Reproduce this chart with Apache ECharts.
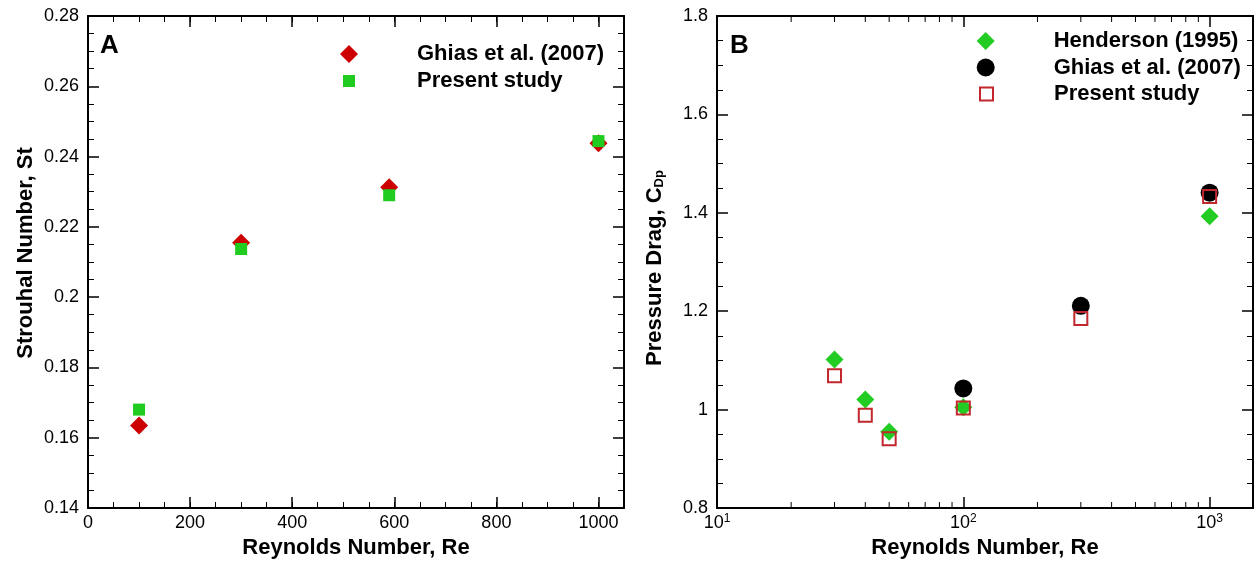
<!DOCTYPE html>
<html>
<head>
<meta charset="utf-8">
<script src="https://cdn.jsdelivr.net/npm/echarts@6/dist/echarts.min.js"></script>
<style>
  html, body { margin: 0; padding: 0; background: #fff; }
  #chart { width: 1257px; height: 561px; }
</style>
</head>
<body>
<div id="chart"></div>
<script>
// Panel A: Strouhal number against Reynolds number
const reA = [100, 300, 590, 1000];
const stGhias = [0.1635, 0.2155, 0.2313, 0.2438];
const stPresent = [0.1680, 0.2137, 0.2290, 0.2444];

// Panel B: pressure drag coefficient against Reynolds number (log axis)
const reHenderson = [30, 40, 50, 100, 1000];
const cdHenderson = [1.102, 1.0205, 0.955, 1.005, 1.393];
const reGhiasB = [100, 300, 1000];
const cdGhiasB = [1.043, 1.211, 1.441];
const rePresentB = [30, 40, 50, 100, 300, 1000];
const cdPresentB = [1.069, 0.9885, 0.941, 1.003, 1.185, 1.433];

// Minor tick positions of the logarithmic Reynolds axis
const reMinorLog = [20, 30, 40, 50, 60, 70, 80, 90, 200, 300, 400, 500, 600, 700, 800, 900];

const FONT = 'Liberation Sans, Arial, sans-serif';
const BLACK = '#000';

const pairs = (xs, ys) => xs.map((x, i) => [x, ys[i]]);

const frameLine = { show: true, onZero: false, lineStyle: { color: BLACK, width: 2 } };
const majorTick = { show: true, inside: true, length: 11, lineStyle: { color: BLACK, width: 1.5 } };
const minorTickStyle = { show: true, inside: true, length: 6, lineStyle: { color: BLACK, width: 1 } };
const tickLabel = { color: BLACK, fontFamily: FONT, fontSize: 18 };
const titleStyle = { color: BLACK, fontFamily: FONT, fontSize: 22, fontWeight: 'bold' };

// Major ticks with labels, or plain mirror ticks on the opposite side
function linearX(grid, pos, interval, labelled, minor) {
  return {
    type: 'value', gridIndex: grid, position: pos, min: 0, max: 1050, interval: interval,
    axisLine: minor ? { show: false } : frameLine,
    axisTick: minor ? minorTickStyle : majorTick,
    axisLabel: labelled ? Object.assign({ margin: 6, showMaxLabel: false, formatter: v => String(v) }, tickLabel) : { show: false },
    splitLine: { show: false },
    name: labelled ? 'Reynolds Number, Re' : '',
    nameLocation: 'middle', nameGap: 24, nameTextStyle: titleStyle
  };
}

function logX(grid, pos, labelled) {
  return {
    type: 'log', logBase: 10, gridIndex: grid, position: pos, min: 10, max: 1500,
    axisLine: frameLine,
    axisTick: majorTick,
    axisLabel: labelled ? Object.assign({
      margin: 5, showMaxLabel: false,
      formatter: v => '{b|10}{s|' + Math.round(Math.log10(v)) + '}',
      rich: {
        b: { fontFamily: FONT, fontSize: 18, color: BLACK, lineHeight: 20 },
        s: { fontFamily: FONT, fontSize: 12, color: BLACK, lineHeight: 12, verticalAlign: 'top' }
      }
    }, tickLabel) : { show: false },
    splitLine: { show: false },
    name: labelled ? 'Reynolds Number, Re' : '',
    nameLocation: 'middle', nameGap: 24, nameTextStyle: titleStyle
  };
}

function linearY(grid, pos, min, max, interval, name, namePad) {
  const labelled = pos === 'left';
  return {
    type: 'value', gridIndex: grid, position: pos, min: min, max: max, interval: interval,
    axisLine: frameLine,
    axisTick: majorTick,
    minorTick: { show: true, splitNumber: 4, length: 6, lineStyle: { color: BLACK, width: 1 } },
    minorSplitLine: { show: false },
    axisLabel: labelled ? Object.assign({ margin: 9 }, tickLabel) : { show: false },
    splitLine: { show: false },
    name: labelled ? name : '',
    nameLocation: 'middle', nameGap: 51,
    nameTextStyle: Object.assign({
      padding: namePad,
      rich: { sub: { fontFamily: FONT, fontSize: 13, fontWeight: 'bold', color: BLACK, verticalAlign: 'bottom', lineHeight: 13 } }
    }, titleStyle)
  };
}

function legendItem(name, left, top, w, h, pad) {
  return {
    data: [name], left: left, top: top, itemWidth: w, itemHeight: h, padding: 0,
    selectedMode: false,
    formatter: n => n.slice(n.indexOf(':') + 1),
    textStyle: { fontFamily: FONT, fontSize: 22, fontWeight: 'bold', color: BLACK, lineHeight: 22, padding: [0, 0, 0, pad] }
  };
}

const option = {
  animation: false,
  backgroundColor: '#fff',
  grid: [
    { left: 88, top: 16, width: 536, height: 492, outerBoundsMode: 'none' },
    { left: 717, top: 16, width: 536, height: 492, outerBoundsMode: 'none' }
  ],
  xAxis: [
    linearX(0, 'bottom', 200, true, false),
    linearX(0, 'bottom', 50, false, true),
    linearX(0, 'top', 200, false, false),
    linearX(0, 'top', 50, false, true),
    logX(1, 'bottom', true),
    logX(1, 'top', false)
  ],
  yAxis: [
    linearY(0, 'left', 0.14, 0.28, 0.02, 'Strouhal Number, St', [0, 0, 0, 18]),
    linearY(0, 'right', 0.14, 0.28, 0.02, '', 0),
    linearY(1, 'left', 0.8, 1.8, 0.2, 'Pressure Drag, C{sub|Dp}', [0, 12, 0, 0]),
    linearY(1, 'right', 0.8, 1.8, 0.2, '', 0)
  ],
  legend: [
    legendItem('st:Ghias et al. (2007)', 340, 43, 18, 18, 54),
    legendItem('st:Present study', 343, 70, 12, 12, 57),
    legendItem('cd:Henderson (1995)', 976.7, 30, 18, 18, 54),
    legendItem('cd:Ghias et al. (2007)', 976.7, 56.5, 18, 18, 54),
    legendItem('cd:Present study', 979, 83, 13, 13, 56)
  ],
  graphic: [
    { type: 'text', left: 100, top: 33, style: { text: 'A', font: 'bold 26px ' + FONT, fill: BLACK } },
    { type: 'text', left: 730, top: 33, style: { text: 'B', font: 'bold 26px ' + FONT, fill: BLACK } }
  ],
  series: [
    {
      name: 'st:Ghias et al. (2007)', type: 'scatter', xAxisIndex: 0, yAxisIndex: 0,
      symbol: 'diamond', symbolSize: 18, itemStyle: { color: '#cc0000', opacity: 1 },
      data: pairs(reA, stGhias), z: 3
    },
    {
      name: 'st:Present study', type: 'scatter', xAxisIndex: 0, yAxisIndex: 0,
      symbol: 'rect', symbolSize: 12, itemStyle: { color: '#1fcc1f', opacity: 1 },
      data: pairs(reA, stPresent), z: 4
    },
    {
      name: 'cd:Henderson (1995)', type: 'scatter', xAxisIndex: 4, yAxisIndex: 2,
      symbol: 'diamond', symbolSize: 18, itemStyle: { color: '#22cc22', opacity: 1 },
      data: pairs(reHenderson, cdHenderson), z: 3
    },
    {
      name: 'cd:Ghias et al. (2007)', type: 'scatter', xAxisIndex: 4, yAxisIndex: 2,
      symbol: 'circle', symbolSize: 18, itemStyle: { color: BLACK, opacity: 1 },
      data: pairs(reGhiasB, cdGhiasB), z: 4
    },
    {
      name: 'cd:Present study', type: 'scatter', xAxisIndex: 4, yAxisIndex: 2,
      symbol: 'rect', symbolSize: 13,
      itemStyle: { color: 'rgba(0,0,0,0)', borderColor: '#c1272d', borderWidth: 2, opacity: 1 },
      data: pairs(rePresentB, cdPresentB), z: 5
    },
    {
      // minor ticks of the log axis, drawn on the bottom and top frame edges
      type: 'custom', xAxisIndex: 4, yAxisIndex: 2, silent: true, clip: false, z: 2,
      data: reMinorLog.map(v => [v, 1]),
      encode: { x: 0, y: 1 },
      renderItem: function (params, api) {
        const x = api.coord([api.value(0), 1])[0];
        const cs = params.coordSys;
        const style = { stroke: BLACK, lineWidth: 1 };
        return {
          type: 'group',
          children: [
            { type: 'line', shape: { x1: x, y1: cs.y + cs.height, x2: x, y2: cs.y + cs.height - 6 }, style: style },
            { type: 'line', shape: { x1: x, y1: cs.y, x2: x, y2: cs.y + 6 }, style: style }
          ]
        };
      }
    }
  ]
};

const chart = echarts.init(document.getElementById('chart'), null, { renderer: 'canvas' });
chart.setOption(option);
</script>
</body>
</html>
